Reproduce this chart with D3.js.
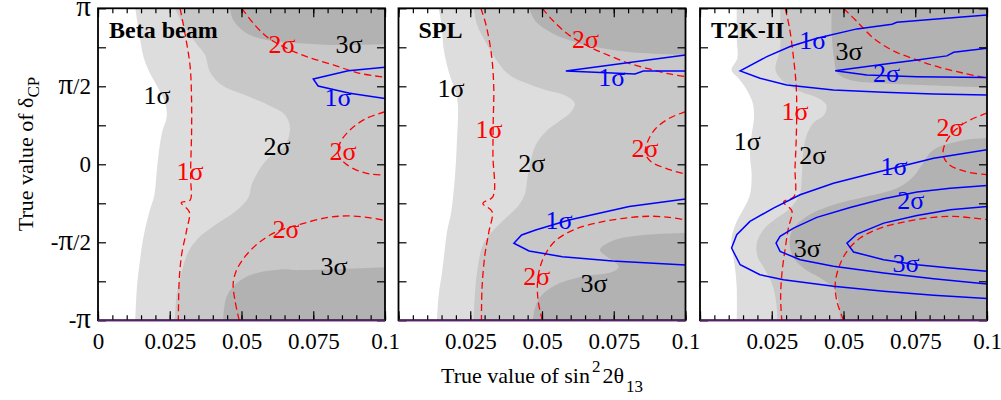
<!doctype html>
<html lang="en">
<head>
	<meta charset="utf-8">
	<title>delta CP reach</title>
	<script src="https://cdn.jsdelivr.net/npm/d3@7"></script>
	<style>
		body { margin: 0; background: #fff; }
		svg text { font-family: "Liberation Serif", "Times New Roman", serif; }
	</style>
</head>
<body>
<div id="chart"></div>
<script>
/* model: every point is [sin^2 2theta13, deltaCP / pi] */
var panelNames = ['Beta beam', 'SPL', 'T2K-II'];
var xTicks = [0, 0.025, 0.05, 0.075, 0.1];
var xTickLabels = ['0', '0.025', '0.05', '0.075', '0.1'];
var xMinorTicks = [0, 0.005, 0.01, 0.015, 0.02, 0.025, 0.03, 0.035, 0.04, 0.045, 0.05, 0.055, 0.06, 0.065, 0.07, 0.075, 0.08, 0.085, 0.09, 0.095, 0.1];
var yTicks = [-1, -0.5, 0, 0.5, 1];
var yTickLabels = ['-π', '-π/2', '0', 'π/2', 'π'];
var yMinorTicks = [-1, -0.75, -0.5, -0.25, 0, 0.25, 0.5, 0.75, 1];

// Beta beam
var betaWhite = [[0.0130,1],[0.0146,0.81],[0.0160,0.68],[0.0182,0.58],[0.0212,0.48],[0.0236,0.38],[0.0239,0.30],[0.0224,0.21],[0.0212,0.08],[0.0204,-0.06],[0.0196,-0.20],[0.0178,-0.31],[0.0160,-0.45],[0.0146,-0.62],[0.0136,-0.78],[0.0130,-1]];
var betaMid = [[0.0268,1],[0.0297,0.893],[0.0338,0.786],[0.0373,0.70],[0.0390,0.594],[0.0431,0.508],[0.0512,0.444],[0.0593,0.380],[0.0652,0.316],[0.0669,0.231],[0.0652,0.124],[0.0593,0.038],[0.0558,-0.047],[0.0535,-0.133],[0.0523,-0.218],[0.0477,-0.304],[0.0408,-0.389],[0.0349,-0.474],[0.0315,-0.560],[0.0292,-0.688],[0.0274,-0.838],[0.0268,-1]];
var betaDarkTop = [[0.0460,1],[0.0471,0.925],[0.0518,0.840],[0.0588,0.797],[0.0704,0.776],[0.0820,0.765],[0.1,0.77]];
var betaDarkLow = [[0.1,-0.660],[0.0681,-0.678],[0.0657,-0.673],[0.0541,-0.703],[0.0483,-0.763],[0.0448,-0.849],[0.0436,-1]];
var betaRed1 = [[0.0286,1],[0.0303,0.840],[0.0321,0.626],[0.0326,0.412],[0.0326,0.199],[0.0323,-0.015],[0.0323,-0.101],[0.0321,-0.229],[0.0290,-0.246],[0.0318,-0.304],[0.0309,-0.421],[0.0292,-0.571],[0.0283,-0.742],[0.0280,-1]];
var betaRed2Top = [[0.0501,1],[0.0541,0.904],[0.0588,0.818],[0.0646,0.754],[0.0727,0.690],[0.0820,0.637],[0.0912,0.583],[0.1,0.558]];
var betaRed2Right = [[0.1,0.337],[0.0936,0.295],[0.0878,0.220],[0.0843,0.135],[0.0838,0.060],[0.0861,0.006],[0.0901,-0.037],[0.0948,-0.062],[0.1,-0.069]];
var betaRed2Low = [[0.0492,-1],[0.0477,-0.870],[0.0471,-0.763],[0.0483,-0.678],[0.0512,-0.592],[0.0558,-0.506],[0.0622,-0.432],[0.0704,-0.385],[0.0797,-0.342],[0.0867,-0.331],[0.0936,-0.340],[0.1,-0.36]];
var betaBlue1 = [[0.1,0.622],[0.0872,0.600],[0.0750,0.547],[0.0767,0.502],[0.0877,0.455],[0.1,0.421]];
var betaLabels = [
	['shade', 0.0206, 0.444, '1σ'], ['shade', 0.0624, 0.117, '2σ'], ['shade', 0.0875, 0.765, '3σ'], ['shade', 0.0822, -0.657, '3σ'],
	['dash', 0.0321, -0.049, '1σ'], ['dash', 0.0641, 0.765, '2σ'], ['dash', 0.0854, 0.079, '2σ'], ['dash', 0.0655, -0.415, '2σ'],
	['line', 0.0836, 0.431, '1σ']
];

// SPL
var splWhite = [[0.0140,1],[0.0150,0.893],[0.0157,0.744],[0.0175,0.594],[0.0198,0.466],[0.0207,0.380],[0.0204,0.167],[0.0198,-0.047],[0.0192,-0.175],[0.0184,-0.303],[0.0169,-0.432],[0.0163,-0.517],[0.0152,-0.688],[0.0140,-0.838],[0.0134,-1]];
var splMid = [[0.0262,1],[0.0274,0.893],[0.0303,0.786],[0.0338,0.679],[0.0379,0.583],[0.0431,0.530],[0.0513,0.476],[0.0583,0.440],[0.0614,0.391],[0.0600,0.333],[0.0559,0.274],[0.0513,0.209],[0.0478,0.124],[0.0460,0.017],[0.0449,-0.090],[0.0441,-0.186],[0.0420,-0.261],[0.0373,-0.346],[0.0326,-0.432],[0.0294,-0.517],[0.0274,-0.688],[0.0266,-0.838],[0.0262,-1]];
var splDarkTop = [[0.0455,1],[0.0478,0.915],[0.0536,0.840],[0.0629,0.776],[0.0746,0.733],[0.0862,0.712],[0.1,0.701]];
var splDarkLow = [[0.1,-0.44],[0.0862,-0.452],[0.0746,-0.49],[0.0702,-0.549],[0.0734,-0.603],[0.0767,-0.656],[0.0746,-0.688],[0.0641,-0.720],[0.0548,-0.774],[0.0495,-0.848],[0.0475,-0.923],[0.0468,-1]];
var splRed1 = [[0.0287,1],[0.0305,0.893],[0.0324,0.701],[0.0332,0.487],[0.0330,0.274],[0.0329,0.060],[0.0329,-0.207],[0.0294,-0.250],[0.0326,-0.303],[0.0315,-0.432],[0.0301,-0.581],[0.0291,-0.795],[0.0289,-1]];
var splRed2Top = [[0.0501,1],[0.0536,0.925],[0.0594,0.829],[0.0664,0.754],[0.0734,0.697],[0.0804,0.647],[0.0874,0.611],[0.0944,0.579],[0.1,0.562]];
var splRed2Right = [[0.1,0.338],[0.0944,0.295],[0.0897,0.231],[0.0868,0.145],[0.0860,0.071],[0.0880,0.017],[0.0932,-0.026],[0.1,-0.064]];
var splRed2Low = [[0.0501,-1],[0.0487,-0.880],[0.0484,-0.774],[0.0492,-0.667],[0.0513,-0.571],[0.0550,-0.485],[0.0618,-0.415],[0.0711,-0.368],[0.0804,-0.342],[0.0874,-0.333],[0.0944,-0.340],[0.1,-0.357]];
var splBlue1Top = [[0.1,0.701],[0.0583,0.598],[0.0824,0.579],[0.0853,0.598],[0.1,0.598]];
var splBlue1Low = [[0.1,-0.222],[0.0804,-0.271],[0.0594,-0.357],[0.0478,-0.421],[0.0429,-0.453],[0.0402,-0.506],[0.0455,-0.556],[0.0571,-0.592],[0.0746,-0.620],[0.1,-0.645]];
var splLabels = [
	['shade', 0.0183, 0.489, '1σ'], ['shade', 0.0464, 0.002, '2σ'], ['shade', 0.0681, -0.761, '3σ'],
	['dash', 0.0315, 0.220, '1σ'], ['dash', 0.0652, 0.797, '2σ'], ['dash', 0.0859, 0.104, '2σ'], ['dash', 0.0482, -0.721, '2σ'],
	['line', 0.0743, 0.555, '1σ'], ['line', 0.0559, -0.363, '1σ']
];

// T2K-II
var t2kWhite = [[0.0128,1],[0.0128,0.808],[0.0130,0.680],[0.0110,0.605],[0.0134,0.552],[0.0163,0.477],[0.0184,0.392],[0.0188,0.296],[0.0180,0.189],[0.0174,0.061],[0.0180,-0.067],[0.0174,-0.195],[0.0153,-0.281],[0.0128,-0.366],[0.0110,-0.473],[0.0113,-0.558],[0.0122,-0.665],[0.0128,-0.793],[0.0128,-1]];
var t2kMid = [[0.0279,1],[0.0279,0.744],[0.0263,0.605],[0.0285,0.541],[0.0349,0.466],[0.0407,0.428],[0.0440,0.381],[0.0433,0.317],[0.0395,0.264],[0.0372,0.189],[0.0360,0.082],[0.0355,-0.067],[0.0347,-0.195],[0.0314,-0.281],[0.0267,-0.345],[0.0221,-0.419],[0.0198,-0.505],[0.0200,-0.590],[0.0227,-0.676],[0.0250,-0.761],[0.0265,-0.878],[0.0270,-1]];
var t2kDarkTop = [[0.0459,1],[0.0459,0.829],[0.0467,0.680],[0.0479,0.584],[0.0523,0.541],[0.0640,0.520],[0.0814,0.505],[0.1,0.492]];
var t2kDarkLow = [[0.1,0.168],[0.0907,0.150],[0.0814,0.093],[0.0773,-0.003],[0.0744,-0.078],[0.0686,-0.153],[0.0581,-0.206],[0.0465,-0.259],[0.0372,-0.334],[0.0326,-0.409],[0.0312,-0.494],[0.0323,-0.590],[0.0360,-0.665],[0.0419,-0.729],[0.0465,-0.793],[0.0483,-0.878],[0.0488,-1]];
var t2kRed1 = [[0.0297,1],[0.0312,0.872],[0.0326,0.680],[0.0335,0.509],[0.0337,0.360],[0.0335,0.146],[0.0331,-0.025],[0.0328,-0.206],[0.0291,-0.242],[0.0320,-0.298],[0.0308,-0.409],[0.0297,-0.537],[0.0285,-0.708],[0.0281,-0.857],[0.0285,-1]];
var t2kRed2Top = [[0.0500,1],[0.0547,0.915],[0.0605,0.808],[0.0674,0.727],[0.0756,0.669],[0.0837,0.620],[0.0919,0.584],[0.1,0.552]];
var t2kRed2Right = [[0.1,0.328],[0.0942,0.285],[0.0890,0.221],[0.0855,0.136],[0.0847,0.061],[0.0866,0.001],[0.0924,-0.046],[0.1,-0.067]];
var t2kRed2Low = [[0.0500,-1],[0.0477,-0.878],[0.0471,-0.772],[0.0483,-0.665],[0.0512,-0.558],[0.0558,-0.473],[0.0628,-0.409],[0.0721,-0.366],[0.0814,-0.340],[0.0884,-0.334],[0.0953,-0.345],[0.1,-0.355]];
var t2kBlue1Top = [[0.1,0.957],[0.0814,0.930],[0.0686,0.910],[0.0669,0.898],[0.0547,0.868],[0.0407,0.808],[0.0314,0.755],[0.0233,0.690],[0.0140,0.599],[0.0209,0.552],[0.0302,0.509],[0.0465,0.477],[0.0640,0.462],[0.0814,0.451],[0.1,0.445]];
var t2kBlue2Top = [[0.1,0.744],[0.0884,0.718],[0.0860,0.695],[0.0756,0.669],[0.0640,0.641],[0.0471,0.599],[0.0581,0.573],[0.0756,0.562],[0.1,0.556]];
var t2kBlue1Low = [[0.1,0.093],[0.0814,0.039],[0.0698,-0.014],[0.0581,-0.067],[0.0465,-0.121],[0.0349,-0.195],[0.0256,-0.281],[0.0174,-0.366],[0.0128,-0.451],[0.0110,-0.537],[0.0140,-0.644],[0.0209,-0.708],[0.0291,-0.740],[0.0465,-0.782],[0.0640,-0.814],[0.0814,-0.840],[0.1,-0.861]];
var t2kBlue2Low = [[0.1,-0.136],[0.0872,-0.153],[0.0756,-0.178],[0.0640,-0.221],[0.0523,-0.277],[0.0407,-0.340],[0.0326,-0.409],[0.0279,-0.462],[0.0265,-0.505],[0.0279,-0.558],[0.0349,-0.612],[0.0465,-0.654],[0.0640,-0.697],[0.0814,-0.733],[0.1,-0.767]];
var t2kBlue3Low = [[0.1,-0.270],[0.0872,-0.291],[0.0756,-0.328],[0.0640,-0.377],[0.0547,-0.447],[0.0512,-0.505],[0.0535,-0.562],[0.0640,-0.612],[0.0756,-0.644],[0.0872,-0.665],[0.1,-0.686]];
var t2kLabels = [
	['shade', 0.0165, 0.143, '1σ'], ['shade', 0.0393, 0.055, '2σ'], ['shade', 0.0519, 0.724, '3σ'], ['shade', 0.0374, -0.541, '3σ'],
	['dash', 0.0331, 0.340, '1σ'], ['dash', 0.0871, 0.233, '2σ'],
	['line', 0.0393, 0.792, '1σ'], ['line', 0.0650, 0.579, '2σ'], ['line', 0.0676, -0.017, '1σ'], ['line', 0.0734, -0.233, '2σ'], ['line', 0.0718, -0.639, '3σ']
];

var panels = [
	{ name: panelNames[0], white: betaWhite, mid: betaMid, dark: [betaDarkTop, betaDarkLow],
	  red: [betaRed1, betaRed2Top, betaRed2Right, betaRed2Low], blue: [betaBlue1], labels: betaLabels },
	{ name: panelNames[1], white: splWhite, mid: splMid, dark: [splDarkTop, splDarkLow],
	  red: [splRed1, splRed2Top, splRed2Right, splRed2Low], blue: [splBlue1Top, splBlue1Low], labels: splLabels },
	{ name: panelNames[2], white: t2kWhite, mid: t2kMid, dark: [t2kDarkTop, t2kDarkLow],
	  red: [t2kRed1, t2kRed2Top, t2kRed2Right, t2kRed2Low], blue: [t2kBlue1Top, t2kBlue2Top, t2kBlue1Low, t2kBlue2Low, t2kBlue3Low], labels: t2kLabels }
];

/* view */
var size = { width: 1001, height: 400 };
var serif = '"Liberation Serif", "Times New Roman", serif';
var panelLeft = [98, 398.5, 700];
var panelWidth = 287;
var plotTop = 8.3, plotBottom = 320.3;
var titleDx = [11, 20, 11];
var shades = { white: '#dddddd', mid: '#c8c8c8', dark: '#b2b2b2' };
var labelColor = { shade: '#000', dash: '#ff0000', line: '#0000ff' };

var svg = d3.select('#chart').append('svg')
	.attr('width', size.width)
	.attr('height', size.height)
	.style('font-family', serif);

var y = d3.scaleLinear().domain([-1, 1]).range([plotBottom, plotTop]);

panels.forEach(function(p, i){
	var x = d3.scaleLinear().domain([0, 0.1]).range([panelLeft[i], panelLeft[i] + panelWidth]);
	var xMax = x.domain()[1];
	var g = svg.append('g');

	g.append('clipPath').attr('id', 'clip' + i)
		.append('rect')
		.attr('x', x(0)).attr('y', plotTop)
		.attr('width', panelWidth).attr('height', plotBottom - plotTop);

	var plot = g.append('g').attr('clip-path', 'url(#clip' + i + ')');

	var smooth = d3.line()
		.x(function(d){ return x(d[0]); })
		.y(function(d){ return y(d[1]); })
		.curve(d3.curveCatmullRom.alpha(0.5));
	var straight = d3.line()
		.x(function(d){ return x(d[0]); })
		.y(function(d){ return y(d[1]); });

	// filled region = boundary closed along the right edge
	function region(pts){
		var first = pts[0], last = pts[pts.length - 1];
		return smooth(pts) + 'L' + x(xMax) + ',' + y(last[1]) + 'L' + x(xMax) + ',' + y(first[1]) + 'Z';
	}

	plot.append('path').attr('d', region(p.white)).style('fill', shades.white);
	plot.append('path').attr('d', region(p.mid)).style('fill', shades.mid);
	p.dark.forEach(function(pts){
		plot.append('path').attr('d', region(pts)).style('fill', shades.dark);
	});

	plot.selectAll('path.red').data(p.red).enter()
		.append('path').attr('class', 'red')
		.attr('d', smooth)
		.style('fill', 'none')
		.style('stroke', '#ff0000')
		.style('stroke-width', 1.3)
		.style('stroke-dasharray', '7,4');

	plot.selectAll('path.blue').data(p.blue).enter()
		.append('path').attr('class', 'blue')
		.attr('d', straight)
		.style('fill', 'none')
		.style('stroke', '#0000ff')
		.style('stroke-width', 1.5);

	plot.selectAll('text.lab').data(p.labels).enter()
		.append('text').attr('class', 'lab')
		.attr('x', function(d){ return x(d[1]); })
		.attr('y', function(d){ return y(d[2]); })
		.attr('text-anchor', 'middle')
		.attr('dominant-baseline', 'central')
		.style('font-family', serif)
		.style('font-size', '26px')
		.style('fill', function(d){ return labelColor[d[0]]; })
		.text(function(d){ return d[3]; });

	// ticks, all pointing inwards
	function styleAxis(sel){
		sel.select('.domain').remove();
		sel.selectAll('line').style('stroke', '#000').style('stroke-width', 1.2);
		sel.selectAll('text').style('font-size', '23px').style('fill', '#000')
			.style('font-family', serif);
	}
	// the pi glyph is drawn a little larger, as in the original
	function bigPi(sel){
		sel.selectAll('text').each(function(){
			var t = d3.select(this), s = t.text();
			if (s.indexOf('π') < 0) return;
			t.text('');
			s.split(/(π)/).forEach(function(part){
				if (!part) return;
				t.append('tspan').style('font-size', part === 'π' ? '29px' : null).text(part);
			});
		});
	}

	g.append('g').attr('transform', 'translate(0,' + plotBottom + ')')
		.call(d3.axisBottom(x).tickValues(xMinorTicks).tickSize(-5).tickFormat(''))
		.call(styleAxis);
	g.append('g').attr('transform', 'translate(0,' + plotBottom + ')')
		.call(d3.axisBottom(x).tickValues(xTicks).tickSize(-9).tickPadding(12)
			.tickFormat(function(d, k){ return (i > 0 && k === 0) ? '' : xTickLabels[k]; }))
		.call(styleAxis);
	g.append('g').attr('transform', 'translate(0,' + plotTop + ')')
		.call(d3.axisTop(x).tickValues(xMinorTicks).tickSize(-5).tickFormat(''))
		.call(styleAxis);
	g.append('g').attr('transform', 'translate(0,' + plotTop + ')')
		.call(d3.axisTop(x).tickValues(xTicks).tickSize(-9).tickFormat(''))
		.call(styleAxis);
	g.append('g').attr('transform', 'translate(' + x(0) + ',0)')
		.call(d3.axisLeft(y).tickValues(yMinorTicks).tickSize(-8).tickPadding(7)
			.tickFormat(function(d){
				var k = yTicks.indexOf(d);
				return (i === 0 && k >= 0) ? yTickLabels[k] : '';
			}))
		.call(styleAxis)
		.call(bigPi);
	g.append('g').attr('transform', 'translate(' + x(xMax) + ',0)')
		.call(d3.axisRight(y).tickValues(yMinorTicks).tickSize(-8).tickFormat(''))
		.call(styleAxis);

	g.append('rect')
		.attr('x', x(0)).attr('y', plotTop)
		.attr('width', panelWidth).attr('height', plotBottom - plotTop)
		.style('fill', 'none')
		.style('stroke', '#000')
		.style('stroke-width', 1.8);
	g.append('line')
		.attr('x1', x(0)).attr('x2', x(xMax))
		.attr('y1', plotBottom).attr('y2', plotBottom)
		.style('stroke', '#5a1e6e')
		.style('stroke-width', 1.8);

	g.append('text')
		.attr('x', x(0) + titleDx[i])
		.attr('y', 38)
		.style('font-family', serif)
		.style('font-size', '24px')
		.style('font-weight', 'bold')
		.text(p.name);
});

// axis titles
var xTitle = svg.append('text')
	.attr('x', 542).attr('y', 383)
	.attr('text-anchor', 'middle')
	.style('font-family', serif)
	.style('font-size', '22px');
xTitle.append('tspan').text('True value of sin');
xTitle.append('tspan').attr('dy', -11).attr('dx', 2).style('font-size', '17px').text('2');
xTitle.append('tspan').attr('dy', 11).attr('dx', 2).text('2θ');
xTitle.append('tspan').attr('dy', 9).attr('dx', 2).style('font-size', '17px').text('13');

var yTitle = svg.append('text')
	.attr('transform', 'translate(33,154) rotate(-90)')
	.attr('text-anchor', 'middle')
	.style('font-family', serif)
	.style('font-size', '22px');
yTitle.append('tspan').text('True value of δ');
yTitle.append('tspan').attr('dy', 6).style('font-size', '17px').text('CP');
</script>
</body>
</html>
